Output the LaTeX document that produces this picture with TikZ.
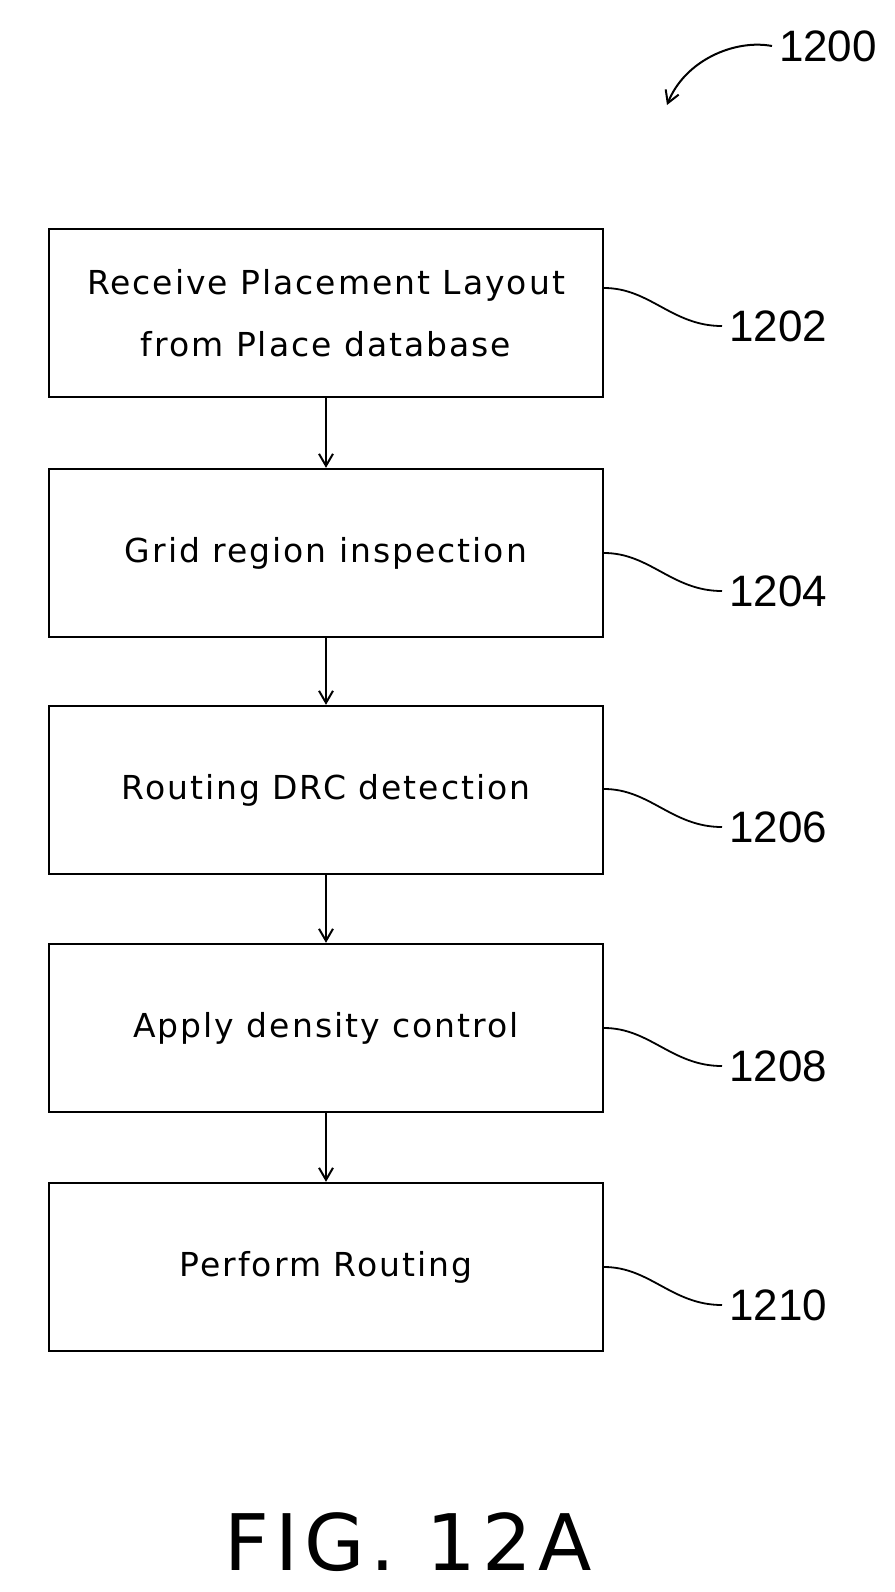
\documentclass[tikz,border=0pt]{standalone}
\usepackage{fontspec}
\setmainfont{DejaVu Sans}
\newfontfamily\labf{Liberation Sans}
\usetikzlibrary{arrows.meta}
\begin{document}
\begin{tikzpicture}[x=0.5pt,y=-0.5pt,
  box/.style={draw,line width=1.2pt,minimum width=277pt,minimum height=84pt,inner sep=0pt,align=center,font=\fontsize{16.5}{31}\selectfont\addfontfeature{LetterSpace=6}},
  lab/.style={font=\labf\fontsize{22}{26}\selectfont},
  arr/.style={-{Straight Barb[length=6pt,width=7pt]},line width=1pt},
  lead/.style={line width=0.9pt}]
\useasboundingbox (0,0) rectangle (895,1592);
\node[box] (b1) at (326,313) {Receive Placement Layout\\from Place database};
\node[box] (b2) at (326,553) {Grid region inspection};
\node[box] (b3) at (326,790) {Routing DRC detection};
\node[box] (b4) at (326,1028) {Apply density control};
\node[box] (b5) at (326,1267) {Perform Routing};
\foreach \a/\b in {b1/b2,b2/b3,b3/b4,b4/b5} \draw[arr] (\a) -- (\b);
\foreach \n/\y/\t in {b1/288/1202,b2/553/1204,b3/789/1206,b4/1028/1208,b5/1267/1210}{
  \node[lab,anchor=west] (l\t) at (722,\y+38) {\t};
  \coordinate (s\t) at (\n.east |- 0,\y);
  \draw[lead] (s\t) .. controls (650,\y) and (672,\y+38) .. (l\t.west);
}
\node[lab] (l1200) at (828,46) {1200};
\coordinate (t1200) at (667,105);
\draw[arr] (l1200.west) .. controls (735,39) and (685,60) .. (t1200);
\node[font=\fontsize{39}{44}\selectfont\addfontfeature{LetterSpace=8}] (fig) at (408,1542) {FIG. 12A};
\end{tikzpicture}
\end{document}
